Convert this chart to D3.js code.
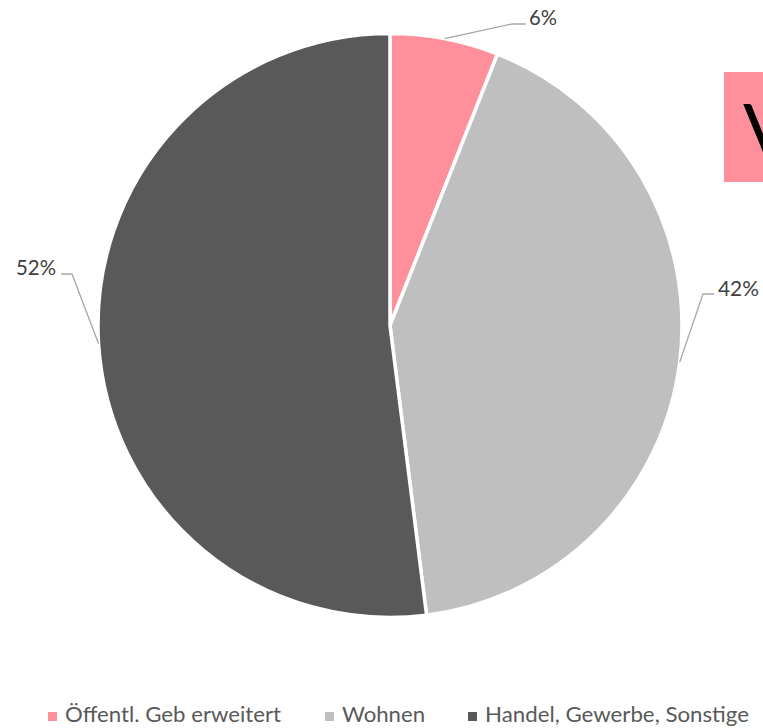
<!DOCTYPE html>
<html><head><meta charset="utf-8">
<script src="https://cdn.jsdelivr.net/npm/d3@7"></script>
<style>html,body{margin:0;padding:0;background:#fff;}svg{display:block;}</style>
</head><body>
<svg id="c" width="763" height="728"></svg>
<script>
const categories = ["Öffentl. Geb erweitert", "Wohnen", "Handel, Gewerbe, Sonstige"];
const values = [6, 42, 52];
const labels = ["6%", "42%", "52%"];
const colors = ["#FF8F9B", "#BFBFBF", "#595959"];

const svg = d3.select("#c");
const cx = 390, cy = 325.5, R = 292;
const font = "Lato, 'Open Sans', sans-serif";

// title box (partially visible at the right edge)
svg.append("rect").attr("x", 724).attr("y", 72).attr("width", 60).attr("height", 110).attr("fill", "#FF8F9B");
svg.append("text").attr("x", 743).attr("y", 158).attr("font-family", font).attr("font-size", 76).attr("fill", "#000").text("V");

const pie = d3.pie().sort(null).value(d => d)(values);
const arc = d3.arc().innerRadius(0).outerRadius(R);
const g = svg.append("g").attr("transform", `translate(${cx},${cy})`);
g.selectAll("path").data(pie).join("path")
  .attr("d", arc).attr("fill", (d, i) => colors[i])
  .attr("stroke", "#fff").attr("stroke-width", 3.5).attr("stroke-linejoin", "round");

// leader lines & labels (layout positions, absolute px)
const lab = [
  {elbow: [512, 24], end: [526, 24], anchor: "start", tx: 529, ty: 25, w: 28},
  {elbow: [703, 294], end: [714, 294], anchor: "start", tx: 718, ty: 296, w: 41},
  {elbow: [72, 274], end: [61, 274], anchor: "end", tx: 56, ty: 275, w: 40}
];
pie.forEach((d, i) => {
  const a = (d.startAngle + d.endAngle) / 2;
  const p = [R * Math.sin(a), -R * Math.cos(a)];
  const L = lab[i];
  const pts = [p, [L.elbow[0] - cx, L.elbow[1] - cy], [L.end[0] - cx, L.end[1] - cy]];
  g.append("polyline").attr("points", pts.map(q => q.join(",")).join(" "))
    .attr("fill", "none").attr("stroke", "#A6A6A6").attr("stroke-width", 1.3);
  g.append("text").attr("x", L.tx - cx).attr("y", L.ty - cy).attr("text-anchor", L.anchor)
    .attr("font-family", font).attr("font-size", 21).attr("fill", "#404040")
    .attr("textLength", L.w).attr("lengthAdjust", "spacingAndGlyphs").text(labels[i]);
});

// legend
const legX = [48, 325, 468];
const legW = [216, 83, 264];
const lg = svg.append("g");
categories.forEach((c, i) => {
  lg.append("rect").attr("x", legX[i]).attr("y", 712).attr("width", 9).attr("height", 9).attr("fill", colors[i]);
  lg.append("text").attr("x", legX[i] + 17).attr("y", 722).attr("font-family", font)
    .attr("font-size", 21).attr("fill", "#595959")
    .attr("textLength", legW[i]).attr("lengthAdjust", "spacingAndGlyphs").text(c);
});
</script>
</body></html>
